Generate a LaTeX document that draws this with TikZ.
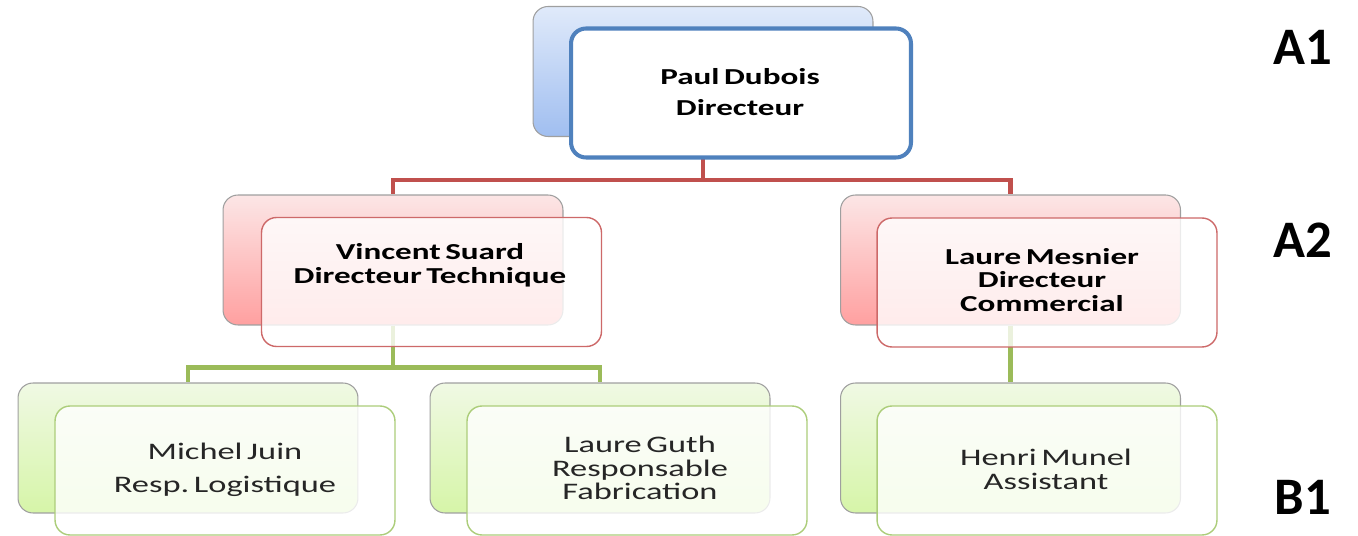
\documentclass[tikz,border=0pt]{standalone}
\usepackage{fontspec}
\setmainfont{Carlito}
\newfontfamily\boxfont[FakeStretch=1.45,WordSpace=0.6]{Carlito}
\usetikzlibrary{positioning}

\definecolor{blueline}{RGB}{79,129,189}
\definecolor{redline}{RGB}{192,80,77}
\definecolor{greenline}{RGB}{155,187,89}
\definecolor{redbox}{RGB}{205,105,105}
\definecolor{greenbox}{RGB}{172,205,122}

\begin{document}
\begin{tikzpicture}[x=0.02cm, y=-0.02cm,
	back/.style={draw=gray!75, line width=0.6pt, rounded corners=8.5pt, minimum width=6.8cm, minimum height=2.6cm},
	front/.style={rounded corners=8.5pt, minimum width=6.8cm, minimum height=2.58cm, fill=white, fill opacity=0.8},
	chief/.style={font=\boxfont\fontsize{13}{13.5}\selectfont\bfseries, align=center, text=black},
	staff/.style={font=\boxfont\fontsize{13.5}{13.5}\selectfont, align=center, text=black!85},
	tier/.style={font=\fontsize{30}{30}\selectfont\bfseries}]
	\useasboundingbox (0,0) rectangle (1358,536);
	
	%back boxes
	\node [back, top color={rgb,255:red,224;green,234;blue,250}, bottom color={rgb,255:red,160;green,190;blue,240}] (dub-back) at (703,71.5){};
	\node [back, top color={rgb,255:red,252;green,230;blue,230}, bottom color={rgb,255:red,255;green,160;blue,160}] (vs-back) at (393,260){};
	\node [back, top color={rgb,255:red,252;green,230;blue,230}, bottom color={rgb,255:red,255;green,160;blue,160}] (lm-back) at (1010.5,260){};
	\node [back, top color={rgb,255:red,240;green,249;blue,228}, bottom color={rgb,255:red,214;green,245;blue,168}] (mj-back) at (188,448){};
	\node [back, top color={rgb,255:red,240;green,249;blue,228}, bottom color={rgb,255:red,214;green,245;blue,168}] (lg-back) at (600,448){};
	\node [back, top color={rgb,255:red,240;green,249;blue,228}, bottom color={rgb,255:red,214;green,245;blue,168}] (hm-back) at (1010.5,448){};
	
	%links
	\draw [redline, line width=2.3pt] (dub-back.south) -- +(0,43) -| (vs-back.north);
	\draw [redline, line width=2.3pt] (dub-back.south) -- +(0,43) -| (lm-back.north);
	\draw [greenline, line width=2.3pt] (vs-back.south) -- +(0,42) -| (mj-back.north);
	\draw [greenline, line width=2.3pt] (vs-back.south) -- +(0,42) -| (lg-back.north);
	\draw [greenline, line width=2.3pt] (lm-back.south) -- (hm-back.north);
	
	%front boxes
	\node [front, fill opacity=1, draw=blueline, line width=2.3pt] (dub) at (741,93){};
	\node [front, draw=redbox, line width=0.8pt] (vs) at (431.5,282){};
	\node [front, draw=redbox, line width=0.8pt] (lm) at (1047,282.5){};
	\node [front, draw=greenbox, line width=0.8pt] (mj) at (225,470.5){};
	\node [front, draw=greenbox, line width=0.8pt] (lg) at (637,470.5){};
	\node [front, draw=greenbox, line width=0.8pt] (hm) at (1047,470.5){};
	
	%texts
	\node [chief] (dub-txt) at (740,92) {Paul Dubois\\[4.5pt]Directeur};
	\node [chief] (vs-txt) at (430,265) {Vincent Suard\\Directeur Technique};
	\node [chief] (lm-txt) at (1042,280) {Laure Mesnier\\Directeur\\Commercial};
	\node [staff] (mj-txt) at (225,470) {Michel Juin\\[5.5pt]Resp.\ Logistique};
	\node [staff] (lg-txt) at (640,468) {Laure Guth\\Responsable\\Fabrication};
	\node [staff] (hm-txt) at (1046,469) {Henri Munel\\Assistant};
	
	%levels
	\node [tier] (a1) at (1303,47) {A1};
	\node [tier] (a2) at (1303,240) {A2};
	\node [tier] (b1) at (1303,497) {B1};
\end{tikzpicture}
\end{document}
